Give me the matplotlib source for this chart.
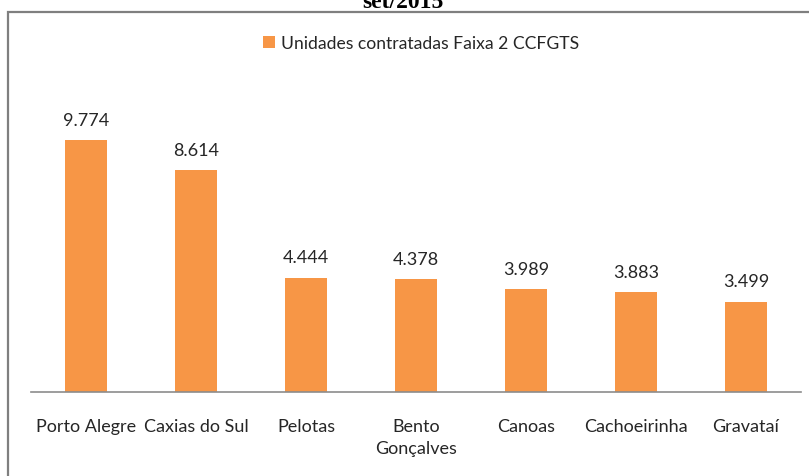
import matplotlib.pyplot as plt
from matplotlib.patches import Rectangle

cidades = ['Porto Alegre', 'Caxias do Sul', 'Pelotas', 'Bento\nGonçalves',
           'Canoas', 'Cachoeirinha', 'Gravataí']
unidades = [9774, 8614, 4444, 4378, 3989, 3883, 3499]
rotulos = ['9.774', '8.614', '4.444', '4.378', '3.989', '3.883', '3.499']
serie = 'Unidades contratadas Faixa 2 CCFGTS'

laranja = '#F79646'
fonte = 'Lato'

W, H = 809, 477
fig = plt.figure(figsize=(W / 100, H / 100), dpi=100)

# moldura cinza (cortada à direita e embaixo)
fig.patches.append(Rectangle((8 / W, -0.1), 1.1, 1.1 - 13 / H, transform=fig.transFigure,
                             fill=False, edgecolor='#7f7f7f', linewidth=1.6))

# titulo cortado no topo, como no original
fig.text(403 / W, 1 - 8 / H, 'set/2015', ha='center', va='baseline',
         fontsize=17, fontweight='bold', family='Liberation Serif')

y0 = 393
topo = 84
ymax = 12000
ax = fig.add_axes([31 / W, (H - y0) / H, 770 / W, (y0 - topo) / H])

x = range(len(cidades))
ax.bar(x, unidades, width=0.39, color=laranja, label=serie)
ax.set_xlim(-0.5, len(cidades) - 0.5)
ax.set_ylim(0, ymax)

for xi, v, r in zip(x, unidades, rotulos):
    ax.annotate(r, (xi, v), xytext=(0, 9), textcoords='offset points',
                ha='center', va='bottom', fontsize=13, family=fonte, color='#262626')

ax.set_xticks(list(x))
ax.set_xticklabels(cidades, fontsize=13, family=fonte, color='#262626',
                   va='top', linespacing=1.45)
ax.tick_params(axis='x', length=0, pad=19)
ax.set_yticks([])
for lado in ['top', 'right', 'left']:
    ax.spines[lado].set_visible(False)
ax.spines['bottom'].set_color('#8c8c8c')
ax.spines['bottom'].set_linewidth(1.2)

leg = fig.legend(loc='center', bbox_to_anchor=(421 / W, 1 - 44 / H), frameon=False,
                 prop={'family': fonte, 'size': 12.6}, handlelength=0.7, handleheight=0.7,
                 handletextpad=0.3)
for t in leg.get_texts():
    t.set_color('#262626')

fig.savefig('out.png', dpi=100)
